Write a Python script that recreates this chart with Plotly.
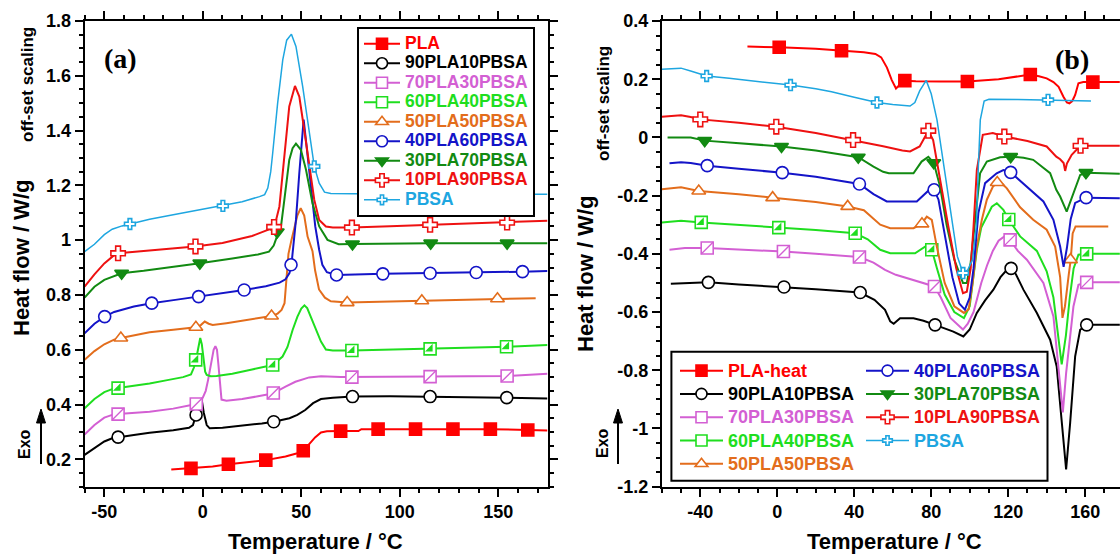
import plotly.graph_objects as go

# ---------------- Panel (a): cooling scans ----------------
A_PLA_T = [-16, -6, 5, 13, 22, 32, 42, 48, 51, 54, 57, 60, 63, 70, 79, 80.5, 89, 108, 127, 146, 165, 175]
A_PLA_Y = [0.163, 0.167, 0.174, 0.182, 0.19, 0.197, 0.21, 0.222, 0.231, 0.255, 0.28, 0.298, 0.302, 0.303, 0.303, 0.31, 0.31, 0.31, 0.31, 0.31, 0.307, 0.305]
A_PLA_MT = [-6, 13, 32, 51, 70, 89, 108, 127, 146, 165]
A_PLA_MY = [0.167, 0.182, 0.197, 0.231, 0.303, 0.31, 0.31, 0.31, 0.31, 0.307]

A_90_T = [-60, -55, -50, -46, -43, -35, -27, -15, -7, -5, -3.5, -2, -0.5, 0.5, 2, 3.5, 10, 20, 30, 36, 44, 48, 52, 56, 60, 66, 76, 95, 115, 135, 154, 175]
A_90_Y = [0.216, 0.24, 0.265, 0.277, 0.281, 0.289, 0.297, 0.306, 0.315, 0.325, 0.36, 0.395, 0.415, 0.37, 0.325, 0.313, 0.315, 0.322, 0.331, 0.337, 0.35, 0.362, 0.38, 0.405, 0.42, 0.425, 0.429, 0.43, 0.429, 0.427, 0.425, 0.422]
A_90_MT = [-43, -3.4, 36, 76, 115.4, 154.3]
A_90_MY = [0.281, 0.362, 0.337, 0.429, 0.429, 0.425]

A_70_T = [-60, -55, -50, -46, -43, -35, -27, -15, -3.3, 0, 1.5, 2.7, 4.4, 5.5, 6.4, 7.2, 8, 8.7, 9.5, 12, 20, 28, 35.5, 42, 47, 54, 60, 70, 75.7, 95, 115.4, 135, 154.5, 175]
A_70_Y = [0.29, 0.325, 0.352, 0.362, 0.365, 0.369, 0.374, 0.385, 0.402, 0.425, 0.45, 0.49, 0.563, 0.6, 0.613, 0.6, 0.54, 0.47, 0.418, 0.414, 0.42, 0.43, 0.44, 0.465, 0.483, 0.499, 0.503, 0.5, 0.5, 0.501, 0.502, 0.503, 0.504, 0.512]
A_70_MT = [-43, -3.3, 35.8, 75.7, 115.4, 154.5]
A_70_MY = [0.365, 0.402, 0.442, 0.5, 0.502, 0.504]

A_60_T = [-60, -55, -50, -46, -43, -35, -27, -18, -10, -6, -4.5, -3, -2, -1.3, -0.5, 0.3, 1.2, 2, 4, 7, 15, 25, 35.5, 40.5, 43, 45.6, 48, 50, 51.6, 53, 55.7, 58, 60, 62.5, 66, 75.7, 95, 115.4, 135, 154.2, 175]
A_60_Y = [0.386, 0.42, 0.445, 0.456, 0.46, 0.468, 0.477, 0.489, 0.5, 0.51, 0.535, 0.58, 0.625, 0.643, 0.62, 0.56, 0.52, 0.508, 0.503, 0.504, 0.512, 0.528, 0.544, 0.575, 0.61, 0.672, 0.72, 0.75, 0.762, 0.752, 0.705, 0.66, 0.63, 0.601, 0.597, 0.597, 0.6, 0.603, 0.607, 0.611, 0.617]
A_60_MT = [-43, -3.6, 35.5, 75.7, 115.4, 154.2]
A_60_MY = [0.46, 0.563, 0.544, 0.597, 0.603, 0.611]

A_50_T = [-60, -55, -50, -45, -41.6, -35, -27, -15, -3.5, -1, 1, 3, 5, 12, 20, 28, 35, 38, 40, 41.5, 42.5, 43.5, 45, 46.5, 48, 49.7, 51.5, 53.2, 55.7, 57, 59, 62, 65, 73.3, 90, 111.2, 130, 149.6, 169]
A_50_Y = [0.563, 0.595, 0.62, 0.637, 0.643, 0.652, 0.664, 0.673, 0.682, 0.69, 0.703, 0.695, 0.69, 0.697, 0.706, 0.715, 0.723, 0.732, 0.745, 0.77, 0.85, 0.95, 1.0, 1.04, 1.09, 1.117, 1.09, 1.013, 0.96, 0.89, 0.82, 0.79, 0.777, 0.772, 0.775, 0.779, 0.782, 0.786, 0.788]
A_50_MT = [-41.6, -3.5, 34.9, 73.3, 111.2, 149.6]
A_50_MY = [0.643, 0.682, 0.723, 0.772, 0.779, 0.786]

A_40_T = [-60, -55, -50, -45, -35, -26, -14, -2, 10, 21, 32, 39, 42, 44, 45, 46, 47.3, 49, 50.4, 51.2, 52.7, 54.9, 57.1, 59.1, 60.7, 63, 67.9, 91.4, 115.4, 138.8, 162.3, 175]
A_40_Y = [0.66, 0.695, 0.72, 0.738, 0.758, 0.77, 0.782, 0.794, 0.806, 0.818, 0.832, 0.845, 0.857, 0.88, 0.91, 0.99, 1.074, 1.245, 1.39, 1.44, 1.342, 1.196, 1.05, 0.964, 0.91, 0.883, 0.873, 0.877, 0.879, 0.882, 0.885, 0.887]
A_40_MT = [-49.8, -25.9, -2.1, 21, 44.8, 67.9, 91.4, 115.4, 138.8, 162.3]
A_40_MY = [0.721, 0.77, 0.794, 0.818, 0.91, 0.873, 0.877, 0.879, 0.882, 0.885]

A_30_T = [-60, -55, -50, -45, -41.2, -30, -20, -1.5, 15, 28, 33.6, 36, 37.5, 39.7, 41.4, 43.9, 45.6, 47.3, 49.8, 52.4, 55.7, 59.1, 63.3, 69, 76, 115.7, 154.5, 175]
A_30_Y = [0.79, 0.83, 0.855, 0.87, 0.879, 0.888, 0.897, 0.916, 0.933, 0.948, 0.958, 0.98, 1.01, 1.05, 1.147, 1.293, 1.336, 1.352, 1.33, 1.257, 1.135, 1.05, 1.001, 0.985, 0.986, 0.989, 0.989, 0.989]
A_30_MT = [-41.2, -1.5, 37.8, 76, 115.7, 154.5]
A_30_MY = [0.879, 0.916, 1.03, 0.986, 0.989, 0.989]

A_10_T = [-60, -55, -50, -45, -43, -35, -27, -15, -4, 10, 25, 34, 36.4, 38.9, 41.4, 43.9, 46.8, 49, 51.5, 54, 56.6, 59.1, 62.5, 66, 75.7, 95, 115.4, 135, 154.5, 175]
A_10_Y = [0.83, 0.875, 0.915, 0.945, 0.952, 0.957, 0.962, 0.969, 0.977, 0.99, 1.015, 1.04, 1.05, 1.123, 1.293, 1.488, 1.563, 1.524, 1.403, 1.269, 1.147, 1.074, 1.05, 1.046, 1.046, 1.051, 1.056, 1.06, 1.064, 1.071]
A_10_MT = [-43, -3.7, 36.2, 75.7, 115.4, 154.5]
A_10_MY = [0.952, 0.977, 1.048, 1.046, 1.056, 1.064]

A_PBSA_T = [-60, -55, -50, -46, -41, -37, -27, -15, 0, 10, 20, 28.8, 31.4, 33, 34.5, 35.5, 38, 40.6, 42.6, 45, 47.3, 50.7, 54, 56.6, 59.1, 61.8, 65, 74, 100, 130, 175]
A_PBSA_Y = [0.958, 0.985, 1.02, 1.04, 1.052, 1.059, 1.076, 1.093, 1.112, 1.125, 1.14, 1.159, 1.166, 1.19, 1.25, 1.318, 1.5, 1.658, 1.73, 1.752, 1.707, 1.561, 1.403, 1.269, 1.208, 1.175, 1.17, 1.169, 1.168, 1.168, 1.168]
A_PBSA_MT = [-37, 10.2, 56.6, 103, 150]
A_PBSA_MY = [1.059, 1.125, 1.269, 1.168, 1.168]

# ---------------- Panel (b): heating scans ----------------
B_PLA_T = [-15.5, 1, 20, 33.4, 45, 51, 54, 57, 59.5, 61.7, 63.5, 66.3, 72, 85, 98.8, 115, 125, 131.5, 136, 140, 143.5, 146.2, 148.7, 150.5, 151.8, 153.3, 154.8, 156.5, 159, 164, 178]
B_PLA_Y = [0.312, 0.31, 0.305, 0.298, 0.293, 0.287, 0.275, 0.24, 0.197, 0.168, 0.18, 0.195, 0.193, 0.192, 0.192, 0.2, 0.21, 0.216, 0.21, 0.203, 0.19, 0.174, 0.14, 0.12, 0.117, 0.125, 0.146, 0.186, 0.19, 0.19, 0.19]
B_PLA_MT = [1, 33.4, 66.3, 98.8, 131.5, 164]
B_PLA_MY = [0.31, 0.298, 0.195, 0.192, 0.216, 0.19]

B_90_T = [-55.3, -45, -35.8, -20, 3.5, 20, 43, 50.5, 56, 58.7, 60.5, 63.8, 70.8, 76, 82, 91.5, 96.7, 100, 103.7, 108, 112.3, 116, 119.3, 121.5, 124, 127.9, 134.9, 141.8, 145.2, 147.8, 150.1, 152.2, 154.8, 157.4, 160.8, 178]
B_90_Y = [-0.503, -0.5, -0.498, -0.505, -0.514, -0.522, -0.533, -0.558, -0.592, -0.632, -0.64, -0.621, -0.621, -0.63, -0.644, -0.667, -0.684, -0.66, -0.603, -0.56, -0.523, -0.48, -0.455, -0.45, -0.47, -0.523, -0.603, -0.695, -0.787, -0.981, -1.141, -0.981, -0.752, -0.661, -0.644, -0.644]
B_90_MT = [-35.8, 3.5, 43.1, 82, 121.5, 160.8]
B_90_MY = [-0.498, -0.514, -0.533, -0.644, -0.45, -0.644]

B_70_T = [-56, -48, -36.4, -20, 3.2, 20, 42.7, 50, 56, 61.6, 72.7, 78, 81.7, 85, 90, 96.5, 99, 102, 104, 106, 109, 112, 115, 118, 121, 125, 129.7, 138.3, 143.5, 146.6, 148.4, 150.1, 153.9, 156.5, 160.8, 178]
B_70_Y = [-0.386, -0.38, -0.38, -0.385, -0.392, -0.4, -0.411, -0.43, -0.455, -0.472, -0.495, -0.505, -0.512, -0.55, -0.62, -0.66, -0.64, -0.6, -0.55, -0.5, -0.44, -0.39, -0.355, -0.34, -0.352, -0.39, -0.42, -0.5, -0.615, -0.81, -0.945, -0.81, -0.581, -0.506, -0.498, -0.498]
B_70_MT = [-36.4, 3.2, 42.7, 81.7, 121, 160.8]
B_70_MY = [-0.38, -0.392, -0.411, -0.512, -0.352, -0.498]

B_60_T = [-60, -50, -39.5, -20, 0.8, 20, 40.5, 47, 53.5, 58.7, 71.6, 76.8, 78.5, 80.3, 83, 87, 92, 97, 100, 102, 103.7, 106, 108, 111.5, 114.1, 117.5, 120.3, 126.2, 134.9, 140, 143.5, 145.5, 147.8, 150, 152, 154, 156.5, 160.8, 178]
B_60_Y = [-0.292, -0.286, -0.292, -0.3, -0.31, -0.318, -0.329, -0.35, -0.386, -0.398, -0.398, -0.375, -0.372, -0.386, -0.45, -0.54, -0.6, -0.621, -0.58, -0.48, -0.386, -0.31, -0.283, -0.238, -0.226, -0.249, -0.282, -0.34, -0.39, -0.46, -0.55, -0.65, -0.78, -0.68, -0.55, -0.45, -0.403, -0.4, -0.4]
B_60_MT = [-39.5, 0.8, 40.5, 80.3, 120.3, 160.8]
B_60_MY = [-0.292, -0.31, -0.329, -0.386, -0.282, -0.4]

B_50_T = [-60, -50, -40.8, -20, -2.4, 20, 36.6, 45, 53.5, 58.7, 70.8, 75, 77.7, 80.3, 82.9, 87, 92, 97, 99.5, 101.5, 103.7, 106.3, 108.9, 112, 114.2, 117, 119.3, 126.2, 133, 140, 144.4, 147, 148.2, 149.5, 151.5, 152.5, 153.5, 155, 172]
B_50_Y = [-0.178, -0.171, -0.184, -0.195, -0.207, -0.222, -0.237, -0.25, -0.3, -0.312, -0.312, -0.297, -0.272, -0.283, -0.375, -0.5, -0.58, -0.603, -0.59, -0.5, -0.375, -0.283, -0.214, -0.17, -0.155, -0.16, -0.175, -0.24, -0.283, -0.317, -0.375, -0.48, -0.62, -0.58, -0.47, -0.42, -0.33, -0.306, -0.306]
B_50_MT = [-40.8, -2.4, 36.6, 75.2, 114.3, 152.4]
B_50_MY = [-0.184, -0.207, -0.237, -0.297, -0.155, -0.42]

B_40_T = [-56, -50, -45, -36.4, -20, 2.6, 20, 42.7, 50, 56.9, 72.5, 76.8, 79.5, 81.5, 83.8, 87.2, 91, 94.5, 97.5, 100, 102, 104.5, 108, 114, 117.5, 121.3, 129.7, 138.3, 143.5, 147, 148.8, 150.5, 152.5, 154.8, 160.5, 178]
B_40_Y = [-0.089, -0.085, -0.088, -0.097, -0.108, -0.121, -0.135, -0.16, -0.195, -0.22, -0.22, -0.192, -0.177, -0.18, -0.214, -0.34, -0.48, -0.57, -0.592, -0.55, -0.45, -0.26, -0.157, -0.123, -0.112, -0.12, -0.169, -0.22, -0.283, -0.375, -0.445, -0.38, -0.28, -0.225, -0.207, -0.209]
B_40_MT = [-36.4, 2.6, 42.7, 81.5, 121.3, 160.5]
B_40_MY = [-0.097, -0.121, -0.16, -0.18, -0.12, -0.207]

B_30_T = [-57, -45, -37.7, -20, 2.2, 20, 42.1, 50, 55, 58, 70.8, 75, 78.5, 81.3, 84.6, 88, 92, 96.5, 98.5, 100.5, 102.5, 104, 105.4, 108.9, 115.8, 121.3, 128, 133, 137.7, 141.8, 145, 147, 150.4, 153.9, 157.4, 160.5, 178]
B_30_Y = [0.0, 0.0, -0.011, -0.02, -0.031, -0.045, -0.068, -0.1, -0.118, -0.123, -0.123, -0.083, -0.067, -0.087, -0.169, -0.3, -0.42, -0.5, -0.5, -0.43, -0.3, -0.2, -0.123, -0.083, -0.068, -0.066, -0.07, -0.077, -0.1, -0.123, -0.18, -0.203, -0.255, -0.192, -0.129, -0.121, -0.125]
B_30_MT = [-37.7, 2.2, 42.1, 81.3, 121.3, 160.4]
B_30_MY = [-0.011, -0.031, -0.068, -0.087, -0.066, -0.121]

B_10_T = [-60, -50, -45, -40, -20, -0.5, 20, 39.4, 55, 65, 69, 74, 78.5, 81, 84.6, 88.9, 93, 96.5, 98.5, 100.5, 102, 103.7, 106.8, 112, 118, 130, 140, 145, 147, 148.8, 149.6, 150.5, 153, 157.5, 178]
B_10_Y = [0.071, 0.076, 0.07, 0.062, 0.05, 0.037, 0.015, -0.009, -0.03, -0.045, -0.048, -0.031, 0.023, -0.009, -0.146, -0.306, -0.45, -0.535, -0.53, -0.45, -0.306, -0.112, 0.009, 0.015, 0.003, -0.012, -0.031, -0.066, -0.075, -0.088, -0.115, -0.09, -0.06, -0.029, -0.029]
B_10_MT = [-40, -0.5, 39.4, 78.5, 118, 157.6]
B_10_MY = [0.062, 0.037, -0.009, 0.023, 0.003, -0.029]

B_PBSA_T = [-60, -50, -45, -36.7, -25, -10, 6.9, 20, 28.2, 40, 51.8, 60, 69, 71.5, 74, 77.4, 80, 83, 88, 91.5, 93.6, 96.5, 99, 101.5, 103.5, 104.5, 105.5, 107.5, 110, 125, 140.7, 163]
B_PBSA_Y = [0.234, 0.238, 0.228, 0.211, 0.203, 0.193, 0.18, 0.167, 0.157, 0.138, 0.12, 0.113, 0.108, 0.12, 0.16, 0.196, 0.15, 0.06, -0.169, -0.329, -0.409, -0.466, -0.455, -0.42, -0.3, -0.1, 0.06, 0.125, 0.131, 0.13, 0.129, 0.125]
B_PBSA_MT = [-36.7, 6.9, 51.8, 96.5, 140.7]
B_PBSA_MY = [0.211, 0.18, 0.12, -0.466, 0.129]

# tick labels
A_XTICKS = [-50, 0, 50, 100, 150]
A_XTEXT = ["-50", "0", "50", "100", "150"]
A_YTICKS = [0.2, 0.4, 0.6, 0.8, 1.0, 1.2, 1.4, 1.6, 1.8]
A_YTEXT = ["0.2", "0.4", "0.6", "0.8", "1", "1.2", "1.4", "1.6", "1.8"]
B_XTICKS = [-40, 0, 40, 80, 120, 160]
B_XTEXT = ["-40", "0", "40", "80", "120", "160"]
B_YTICKS = [-1.2, -1.0, -0.8, -0.6, -0.4, -0.2, 0.0, 0.2, 0.4]
B_YTEXT = ["-1.2", "-1", "-0.8", "-0.6", "-0.4", "-0.2", "0", "0.2", "0.4"]

# ---------------- styling ----------------
FONT = "Liberation Sans, Arial, sans-serif"
SERIF = "Liberation Serif, Times New Roman, serif"
W, H = 1120, 554

STYLE = {
    "PLA":         dict(color="#ff0000", symbol="square", fill="#ff0000", size=12, lw=2),
    "PLA-heat":    dict(color="#ff0000", symbol="square", fill="#ff0000", size=12, lw=2),
    "90PLA10PBSA": dict(color="#000000", symbol="circle", fill="white", size=12, lw=2),
    "70PLA30PBSA": dict(color="#d35fd3", symbol="square", fill="white", size=12, lw=2, overlay=("line-ne", 12, False)),
    "60PLA40PBSA": dict(color="#1fde1f", symbol="square", fill="white", size=12, lw=2, overlay=("triangle-se", 8.5, True)),
    "50PLA50PBSA": dict(color="#e36d1c", symbol="triangle-up", fill="white", size=12, lw=2),
    "40PLA60PBSA": dict(color="#1414c8", symbol="circle", fill="white", size=12, lw=2),
    "30PLA70PBSA": dict(color="#128a12", symbol="triangle-down", fill="#128a12", size=12, lw=2),
    "10PLA90PBSA": dict(color="#ee1111", symbol="cross", fill="white", size=12, lw=2),
    "PBSA":        dict(color="#1ea6e0", symbol="cross", fill="white", size=9, lw=1.5),
}

SERIES_A = [
    ("PLA", A_PLA_T, A_PLA_Y, A_PLA_MT, A_PLA_MY),
    ("90PLA10PBSA", A_90_T, A_90_Y, A_90_MT, A_90_MY),
    ("70PLA30PBSA", A_70_T, A_70_Y, A_70_MT, A_70_MY),
    ("60PLA40PBSA", A_60_T, A_60_Y, A_60_MT, A_60_MY),
    ("50PLA50PBSA", A_50_T, A_50_Y, A_50_MT, A_50_MY),
    ("40PLA60PBSA", A_40_T, A_40_Y, A_40_MT, A_40_MY),
    ("30PLA70PBSA", A_30_T, A_30_Y, A_30_MT, A_30_MY),
    ("10PLA90PBSA", A_10_T, A_10_Y, A_10_MT, A_10_MY),
    ("PBSA", A_PBSA_T, A_PBSA_Y, A_PBSA_MT, A_PBSA_MY),
]
SERIES_B = [
    ("PLA-heat", B_PLA_T, B_PLA_Y, B_PLA_MT, B_PLA_MY),
    ("90PLA10PBSA", B_90_T, B_90_Y, B_90_MT, B_90_MY),
    ("70PLA30PBSA", B_70_T, B_70_Y, B_70_MT, B_70_MY),
    ("60PLA40PBSA", B_60_T, B_60_Y, B_60_MT, B_60_MY),
    ("50PLA50PBSA", B_50_T, B_50_Y, B_50_MT, B_50_MY),
    ("40PLA60PBSA", B_40_T, B_40_Y, B_40_MT, B_40_MY),
    ("30PLA70PBSA", B_30_T, B_30_Y, B_30_MT, B_30_MY),
    ("10PLA90PBSA", B_10_T, B_10_Y, B_10_MT, B_10_MY),
    ("PBSA", B_PBSA_T, B_PBSA_Y, B_PBSA_MT, B_PBSA_MY),
]

fig = go.Figure()


def main_marker(st):
    return dict(symbol=st["symbol"], size=st["size"], color=st["fill"],
                line=dict(color=st["color"], width=1.6))


def add_series(series, xa, ya, legend_of, legend_px):
    for name, t, y, mt, my in series:
        st = STYLE[name]
        fig.add_trace(go.Scatter(x=t, y=y, mode="lines", xaxis=xa, yaxis=ya,
                                 line=dict(color=st["color"], width=st["lw"]),
                                 showlegend=False, hoverinfo="skip"))
        fig.add_trace(go.Scatter(x=mt, y=my, mode="markers", xaxis=xa, yaxis=ya,
                                 marker=main_marker(st), showlegend=False, hoverinfo="skip"))
        if "overlay" in st:
            sym, size, filled = st["overlay"]
            if filled:
                mk = dict(symbol=sym, size=size, color=st["color"], line=dict(width=0))
            else:
                mk = dict(symbol=sym, size=size, color=st["color"],
                          line=dict(color=st["color"], width=1.4))
            fig.add_trace(go.Scatter(x=mt, y=my, mode="markers", xaxis=xa, yaxis=ya,
                                     marker=mk, showlegend=False, hoverinfo="skip"))
        # legend-only entry (sample line + symbol, coloured label)
        label = f'<span style="font-size:{legend_px}px;color:{st["color"]}">{name}</span>'
        mk = main_marker(st)
        mk["size"] = st["size"] - 1
        fig.add_trace(go.Scatter(x=[None], y=[None], mode="lines+markers", xaxis=xa, yaxis=ya,
                                 name=label, legend=legend_of(name),
                                 line=dict(color=st["color"], width=st["lw"]), marker=mk))


add_series(SERIES_A, "x", "y", lambda n: "legend", 17.5)
COL2 = {"40PLA60PBSA", "30PLA70PBSA", "10PLA90PBSA", "PBSA"}
add_series(SERIES_B, "x2", "y2", lambda n: "legend3" if n in COL2 else "legend2", 18)

tickfont = dict(family=FONT, size=18, color="black", weight="bold")


def xaxis(dom, rng, tv, tt, mirror):
    return dict(domain=dom, range=rng, tickvals=tv, ticktext=tt, showline=True, linecolor="black",
                linewidth=2, mirror=mirror, ticks="outside", ticklen=8, tickwidth=2, tickcolor="black",
                showgrid=False, zeroline=False, tickfont=tickfont, automargin=False,
                minor=dict(dtick=10, tick0=0, ticks="outside", ticklen=4, tickwidth=1.5,
                           tickcolor="black", showgrid=False))


def yaxis(dom, rng, tv, tt, mirror, anchor):
    return dict(domain=dom, range=rng, tickvals=tv, ticktext=tt, showline=True, linecolor="black",
                linewidth=2, mirror=mirror, ticks="outside", ticklen=8, tickwidth=2, tickcolor="black",
                showgrid=False, zeroline=False, tickfont=tickfont, automargin=False, anchor=anchor,
                minor=dict(dtick=0.05, tick0=0, ticks="outside", ticklen=4, tickwidth=1.5,
                           tickcolor="black", showgrid=False))


ydom = [1 - 486.7 / H, 1 - 21 / H]
fig.update_layout(
    xaxis=xaxis([84.6 / W, 547.5 / W], [-60, 175], A_XTICKS, A_XTEXT, "ticks"),
    yaxis=yaxis(ydom, [0.1, 1.8], A_YTICKS, A_YTEXT, "ticks", "x"),
    xaxis2=dict(xaxis([661.8 / W, 1.0], [-60, 178.1], B_XTICKS, B_XTEXT, "ticks"), anchor="y2"),
    yaxis2=yaxis(ydom, [-1.2, 0.4], B_YTICKS, B_YTEXT, False, "x2"),
)

legend_common = dict(bgcolor="rgba(0,0,0,0)", borderwidth=0, traceorder="normal",
                     xanchor="left", yanchor="top", tracegroupgap=0)
fig.update_layout(
    legend=dict(x=357 / W, y=1 - 27 / H, xanchor="left", yanchor="top", bgcolor="white",
                bordercolor="black", borderwidth=2, traceorder="normal", tracegroupgap=0,
                itemwidth=36, font=dict(family=FONT, size=12.7, weight="bold")),
    legend2=dict(legend_common, x=675 / W, y=1 - 354 / H, itemwidth=43,
                 font=dict(family=FONT, size=15.6, weight="bold")),
    legend3=dict(legend_common, x=861 / W, y=1 - 354 / H, itemwidth=43,
                 font=dict(family=FONT, size=15.6, weight="bold")),
)

# frame around the two-column legend of panel (b)
fig.add_shape(type="rect", xref="paper", yref="paper", x0=671.4 / W, x1=1047.5 / W,
              y0=1 - 480.7 / H, y1=1 - 351.7 / H, line=dict(color="black", width=2),
              fillcolor="white", layer="above")


def ann(text, px, py, size, angle=0, family=FONT):
    fig.add_annotation(text=text, x=px / W, y=1 - py / H, xref="paper", yref="paper",
                       showarrow=False, textangle=angle, xanchor="center", yanchor="middle",
                       font=dict(family=family, size=size, color="black", weight="bold"))


ann("(a)", 120.5, 58.5, 28, family=SERIF)
ann("(b)", 1071.7, 59.5, 28, family=SERIF)
ann("Temperature / °C", 315, 541, 22)
ann("Temperature / °C", 894, 541, 22)
ann("Heat flow / W/g", 21, 258, 22, angle=-90)
ann("Heat flow / W/g", 586, 274, 22, angle=-90)
ann("off-set scaling", 28, 85, 17, angle=-90)
ann("off-set scaling", 603, 104, 17, angle=-90)
ann("Exo", 24, 444, 16, angle=-90)
ann("Exo", 602, 443, 16, angle=-90)

# "Exo" arrows: a stem and a filled head, in paper coordinates
for sx in (41, 618):
    fig.add_shape(type="line", xref="paper", yref="paper",
                  x0=sx / W, x1=sx / W, y0=1 - 464 / H, y1=1 - 420 / H,
                  line=dict(color="black", width=2))
    head = "M {:.5f},{:.5f} L {:.5f},{:.5f} L {:.5f},{:.5f} Z".format(
        (sx - 4.5) / W, 1 - 423 / H, (sx + 4.5) / W, 1 - 423 / H, sx / W, 1 - 409 / H)
    fig.add_shape(type="path", xref="paper", yref="paper", path=head,
                  fillcolor="black", line=dict(color="black", width=1))

fig.update_layout(width=W, height=H, margin=dict(l=0, r=0, t=0, b=0),
                  plot_bgcolor="white", paper_bgcolor="white", showlegend=True)

fig.write_html("out.html")
